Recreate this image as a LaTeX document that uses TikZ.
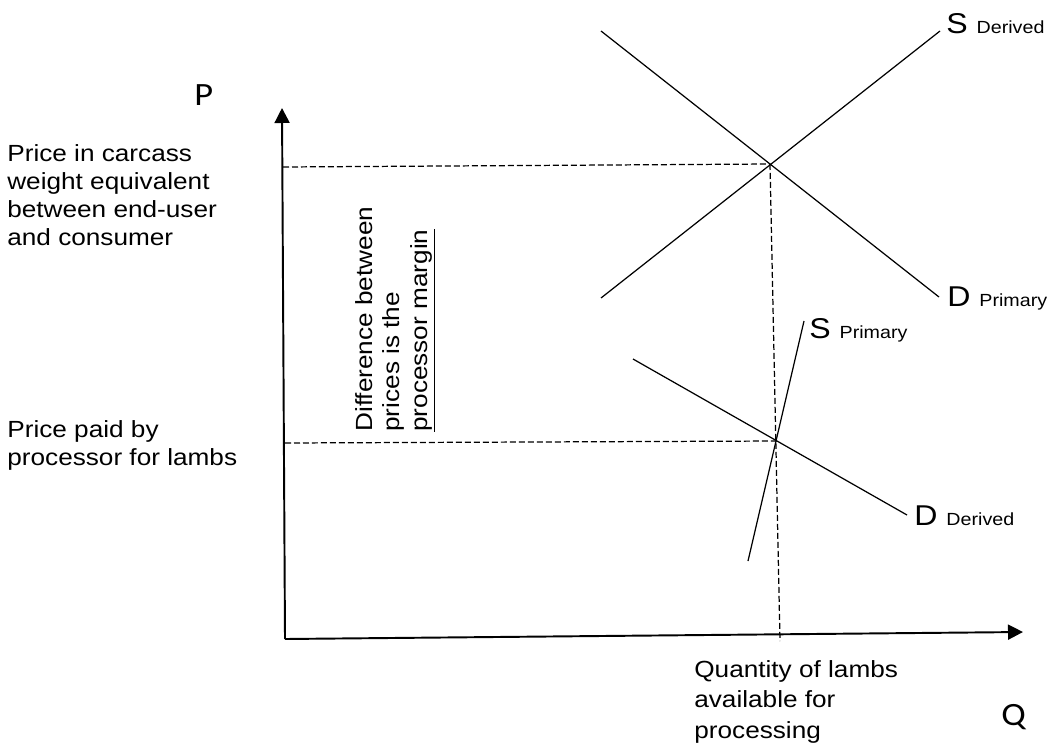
\documentclass[tikz,border=0pt]{standalone}
\usepackage{fontspec}
\setmainfont{Liberation Sans}[FakeStretch=1.12]
\newfontfamily\axisfont{Carlito}[FakeStretch=1.12]
\usetikzlibrary{arrows.meta}

\newcommand{\curvelabel}[2]{{\fontsize{16.3}{18}\selectfont #1 }{\fontsize{10}{12}\selectfont #2}}

\begin{document}
\begin{tikzpicture}[x=0.02cm,y=-0.02cm]
    \tikzstyle{curve}=[line width=0.7pt]
    \tikzstyle{guide}=[line width=0.7pt, dash pattern=on 0.12cm off 0.06cm]
    \tikzstyle{axis}=[line width=1.1pt, -{Triangle[length=3mm,width=3mm]}]
    \tikzstyle{txt}=[inner sep=0pt, anchor=base west, align=left, font=\fontsize{13.3}{15.8}\selectfont]
    \tikzstyle{tag}=[inner sep=0pt, anchor=base west]
    \useasboundingbox (0,0) rectangle (1058,744);
    % axes
    \coordinate (O) at (285,639);
    \coordinate (Ptip) at (282,108);
    \coordinate (Qtip) at (1023,632);
    \draw[axis] (O) -- (Ptip);
    \draw[axis] (O) -- (Qtip);
    \node[tag, font=\axisfont\fontsize{18.5}{20}\selectfont] (P) at (194,105) {P};
    \node[tag, font=\axisfont\fontsize{18.5}{20}\selectfont] (Q) at (1001,725) {Q};
    % upper market
    \coordinate (SDlo) at (601,298);
    \coordinate (SDhi) at (940,31);
    \coordinate (DPhi) at (601,31);
    \coordinate (DPlo) at (939,297);
    \coordinate (E1) at (770,164);
    \draw[curve] (SDlo) -- (SDhi);
    \draw[curve] (DPhi) -- (DPlo);
    \node[tag] (SDerived) at (946,33) {\curvelabel{S}{Derived}};
    \node[tag] (DPrimary) at (947,306) {\curvelabel{D}{Primary}};
    % lower market
    \coordinate (DDhi) at (633,359);
    \coordinate (DDlo) at (907,515);
    \coordinate (SPlo) at (748,561);
    \coordinate (SPhi) at (804,321);
    \coordinate (E2) at (777,441);
    \draw[curve] (DDhi) -- (DDlo);
    \draw[curve] (SPlo) -- (SPhi);
    \node[tag] (SPrimary) at (809,338) {\curvelabel{S}{Primary}};
    \node[tag] (DDerived) at (914,525) {\curvelabel{D}{Derived}};
    % guide lines
    \coordinate (E1p) at (283,167);
    \coordinate (E2p) at (285,443);
    \coordinate (E1q) at (780,641);
    \draw[guide] (E1p) -- (E1);
    \draw[guide] (E1) -- (E1q);
    \draw[guide] (E2p) -- (E2);
    % texts (base = baseline of the last line)
    \node[txt] (upperprice) at (7,245) {Price in carcass\\weight equivalent\\between end-user\\and consumer};
    \node[txt] (lowerprice) at (7,465) {Price paid by\\processor for lambs};
    \node[txt, rotate=90, font=\fontsize{13.3}{15.4}\selectfont] (margin) at (427,432) {Difference between\\prices is the\\\underline{processor margin}};
    \node[txt, font=\fontsize{13.3}{17.2}\selectfont] (quantity) at (694,738) {Quantity of lambs\\available for\\processing};
\end{tikzpicture}
\end{document}
